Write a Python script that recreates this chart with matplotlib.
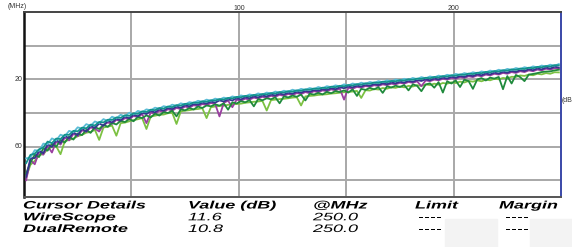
import matplotlib
matplotlib.use("Agg")
import matplotlib.pyplot as plt
from matplotlib.patches import Rectangle
from matplotlib.patheffects import AbstractPathEffect
from matplotlib.transforms import Affine2D

# ---------------- data ----------------
freq_mhz = list(range(1, 251, 2))  # 125 sample frequencies, 1..249 MHz

cyan_db = [67.0, 66.4, 62.1, 62.5, 58.2, 58.6, 55.1, 56.3, 52.9, 53.8,
           50.6, 51.5, 48.5, 49.3, 46.6, 47.6, 45.0, 46.0, 43.6, 44.7,
           42.2, 43.2, 41.0, 42.0, 39.8, 40.8, 38.7, 39.5, 37.8, 38.4,
           36.8, 37.4, 35.9, 36.5, 35.0, 35.7, 34.2, 34.9, 33.5, 34.0,
           32.7, 33.3, 32.0, 32.7, 31.4, 32.0, 30.8, 31.4, 30.1, 30.7,
           29.5, 30.1, 28.9, 29.5, 28.3, 29.0, 27.8, 28.4, 27.2, 27.8,
           26.7, 27.3, 26.1, 26.8, 25.6, 26.2, 25.1, 25.7, 24.5, 25.2,
           24.0, 24.6, 23.5, 24.1, 22.9, 23.6, 22.4, 23.1, 21.9, 22.6,
           21.5, 22.1, 21.0, 21.6, 20.5, 21.2, 20.0, 20.7, 19.6, 20.2,
           19.1, 19.8, 18.6, 19.3, 18.2, 18.8, 17.7, 18.3, 17.2, 17.8,
           16.7, 17.3, 16.2, 16.8, 15.7, 16.3, 15.2, 15.8, 14.7, 15.3,
           14.2, 14.8, 13.7, 14.3, 13.2, 13.8, 12.7, 13.3, 12.2, 12.8,
           11.7, 12.3, 11.2, 11.8, 10.8]

teal_db = [69.8, 64.9, 64.2, 61.6, 60.5, 57.0, 57.9, 55.2, 55.5, 52.9,
           53.0, 50.6, 50.9, 48.7, 49.1, 46.9, 47.4, 45.3, 45.6, 44.0,
           44.1, 42.6, 42.9, 41.3, 41.7, 40.2, 40.5, 39.0, 39.4, 38.0,
           38.3, 37.0, 37.4, 36.1, 36.5, 35.3, 35.6, 34.5, 34.8, 33.7,
           34.0, 33.0, 33.3, 32.4, 32.6, 31.7, 32.0, 31.0, 31.3, 30.4,
           30.6, 29.8, 30.1, 29.2, 29.5, 28.7, 28.9, 28.1, 28.4, 27.5,
           27.8, 27.0, 27.3, 26.5, 26.8, 25.9, 26.2, 25.4, 25.7, 24.9,
           25.2, 24.3, 24.6, 23.8, 24.1, 23.3, 23.6, 22.8, 23.1, 22.3,
           22.6, 21.8, 22.1, 21.3, 21.6, 20.9, 21.1, 20.4, 20.7, 19.9,
           20.2, 19.5, 19.7, 19.0, 19.3, 18.5, 18.8, 18.0, 18.3, 17.5,
           17.8, 17.0, 17.3, 16.5, 16.8, 16.0, 16.3, 15.5, 15.8, 15.0,
           15.3, 14.5, 14.8, 14.0, 14.3, 13.5, 13.8, 13.0, 13.3, 12.5,
           12.8, 12.0, 12.3, 11.5, 11.6]

navy_db = [78.0, 67.0, 66.8, 62.5, 63.9, 58.6, 60.2, 56.0, 57.8, 53.6,
           55.0, 51.5, 53.1, 49.4, 51.0, 47.6, 48.9, 46.2, 47.5, 44.7,
           45.6, 43.4, 44.3, 42.2, 43.1, 41.0, 41.9, 39.9, 40.6, 38.8,
           39.6, 37.8, 38.6, 37.0, 37.7, 36.1, 36.9, 35.3, 36.0, 34.6,
           35.1, 33.8, 34.4, 33.2, 33.8, 32.5, 33.1, 31.9, 32.5, 31.2,
           31.9, 30.6, 31.2, 30.1, 30.7, 29.5, 30.1, 29.0, 29.5, 28.4,
           29.0, 27.9, 28.5, 27.3, 27.9, 26.8, 27.4, 26.3, 26.8, 25.8,
           26.3, 25.2, 25.8, 24.7, 25.2, 24.2, 24.7, 23.7, 24.2, 23.2,
           23.8, 22.7, 23.3, 22.2, 22.8, 21.8, 22.3, 21.3, 21.9, 20.8,
           21.4, 20.4, 20.9, 19.9, 20.5, 19.4, 20.0, 18.9, 19.5, 18.4,
           19.0, 17.9, 18.5, 17.4, 18.0, 16.9, 17.5, 16.4, 17.0, 15.9,
           16.5, 15.4, 16.0, 14.9, 15.5, 14.4, 15.0, 13.9, 14.5, 13.4,
           14.0, 12.9, 13.5, 12.4, 12.9]

purple_db = [80.0, 68.0, 70.5, 63.2, 64.8, 59.6, 63.5, 57.0, 58.8, 54.6,
             56.3, 52.4, 53.8, 50.3, 51.2, 48.6, 49.3, 51.0, 47.2, 45.6,
             46.5, 44.0, 45.0, 43.0, 43.8, 41.7, 42.5, 40.6, 46.0, 39.6,
             40.5, 38.6, 39.5, 37.7, 38.6, 36.9, 37.7, 36.1, 36.8, 35.3,
             36.0, 34.6, 35.3, 34.0, 34.6, 42.0, 33.9, 32.6, 36.5, 32.0,
             32.7, 31.4, 32.0, 30.8, 31.4, 30.3, 30.9, 29.7, 30.3, 29.1,
             29.8, 28.6, 29.3, 28.1, 28.7, 27.5, 28.2, 27.0, 27.6, 26.5,
             27.0, 25.9, 26.5, 25.4, 32.0, 24.9, 25.5, 24.4, 24.9, 23.9,
             24.4, 23.4, 23.9, 22.9, 23.4, 22.5, 22.9, 22.0, 22.5, 21.5,
             22.0, 21.1, 24.0, 20.6, 21.0, 20.1, 20.5, 19.6, 20.1, 19.1,
             19.6, 18.6, 19.1, 18.1, 18.6, 17.6, 18.1, 17.1, 17.6, 16.6,
             17.1, 16.1, 16.6, 15.6, 16.1, 15.1, 15.6, 14.6, 15.1, 14.1,
             14.6, 13.6, 14.1, 13.3, 13.6]

dkgreen_db = [76.0, 69.5, 64.8, 66.2, 61.0, 62.4, 58.2, 60.1, 56.0, 57.6,
              54.0, 55.8, 52.2, 53.1, 50.0, 51.8, 48.4, 49.5, 47.0, 48.2,
              45.9, 46.8, 44.6, 45.4, 43.5, 44.9, 42.3, 43.0, 41.4, 42.6,
              40.3, 41.5, 39.4, 40.0, 38.6, 42.0, 37.8, 38.4, 37.0, 37.9,
              36.1, 37.0, 35.5, 36.0, 34.8, 35.6, 34.2, 38.0, 33.6, 34.3,
              32.9, 33.6, 32.3, 36.0, 31.7, 32.4, 31.2, 31.8, 30.6, 34.2,
              30.1, 30.7, 29.6, 30.3, 29.0, 32.5, 28.5, 29.0, 28.0, 28.9,
              27.4, 28.2, 26.9, 27.5, 26.5, 27.8, 25.9, 29.8, 25.6, 26.2,
              25.0, 25.9, 24.6, 28.0, 24.1, 24.8, 23.7, 24.5, 23.3, 26.5,
              22.9, 23.8, 27.0, 23.0, 22.3, 24.9, 21.6, 27.8, 21.1, 22.4,
              20.6, 24.5, 20.1, 21.0, 25.6, 20.0, 19.2, 20.6, 18.9, 19.5,
              18.5, 25.8, 18.0, 22.4, 17.3, 18.6, 21.0, 17.1, 16.7, 16.2,
              15.6, 15.3, 15.2, 14.6, 14.2]

ltgreen_db = [78.0, 70.8, 68.5, 65.0, 64.5, 61.5, 60.2, 59.8, 64.5, 56.8,
              56.0, 55.2, 53.8, 53.0, 51.7, 51.3, 50.0, 56.0, 48.6, 48.1,
              47.5, 53.5, 46.0, 45.7, 44.9, 44.2, 43.7, 43.0, 49.5, 42.0,
              41.6, 41.0, 40.9, 40.1, 39.8, 46.5, 39.0, 38.6, 38.3, 37.8,
              37.6, 37.1, 43.0, 36.5, 36.1, 35.8, 35.6, 35.1, 34.8, 34.6,
              34.4, 33.9, 33.6, 33.3, 33.1, 32.8, 38.5, 32.3, 32.0, 31.7,
              31.5, 31.2, 30.8, 30.6, 35.5, 30.1, 29.8, 29.6, 29.2, 29.0,
              28.8, 28.4, 28.2, 27.9, 27.6, 27.4, 27.2, 26.8, 31.0, 26.4,
              26.6, 25.7, 26.0, 25.1, 25.5, 24.7, 25.0, 24.2, 24.7, 23.8,
              24.2, 23.4, 23.8, 23.0, 23.3, 22.5, 23.1, 22.1, 22.5, 21.7,
              22.1, 21.3, 21.8, 20.9, 21.3, 20.5, 21.1, 20.1, 20.5, 19.6,
              19.9, 19.1, 19.4, 18.4, 18.5, 17.6, 17.9, 17.1, 17.5, 16.6,
              17.0, 16.2, 16.6, 15.7, 15.8]

x_ticks = [100, 200]
y_ticks = [20, 60]

header = ["Cursor Details", "Value (dB)", "@MHz", "Limit", "Margin"]
rows = [["WireScope", "11.6", "250.0", "----", "----"],
        ["DualRemote", "10.8", "250.0", "----", "----"]]


class StretchX(AbstractPathEffect):
    """Widen glyphs horizontally about the text origin."""
    def __init__(self, sx):
        super().__init__()
        self._sx = sx

    def draw_path(self, renderer, gc, tpath, affine, rgbFace=None):
        renderer.draw_path(gc, tpath, Affine2D().scale(self._sx, 1.0) + affine, rgbFace)


# ---------------- figure ----------------
W, H = 572, 247
fig = plt.figure(figsize=(W / 100, H / 100), dpi=100)
fig.patch.set_facecolor("white")


def fx(px):
    return px / W


def fy(py):
    return 1 - py / H


# faint background patches at bottom right
fig.patches.append(Rectangle((fx(445), 0), fx(497) - fx(445), fy(219),
                             transform=fig.transFigure, color="#f3f3f3", zorder=0))
fig.patches.append(Rectangle((fx(530), 0), fx(572) - fx(530), fy(219),
                             transform=fig.transFigure, color="#f3f3f3", zorder=0))

L, R, T, B = 24, 561, 12.3, 197
ax = fig.add_axes([fx(L), fy(B), fx(R) - fx(L), fy(T) - fy(B)])
ax.set_xlim(0, 250)
ax.set_ylim(90, -20)

for v in [50, 100, 150, 200]:
    ax.axvline(v, color="#a8a8a8", lw=1.4, zorder=1)
for v in [0, 20, 40, 60, 80]:
    ax.axhline(v, color="#a8a8a8", lw=1.4, zorder=1)

series = [
    (ltgreen_db, "#7cc142"),
    (purple_db, "#9a3fa0"),
    (dkgreen_db, "#1f8a3c"),
    (navy_db, "#35358f"),
    (cyan_db, "#5bbcd6"),
    (teal_db, "#12928c"),
]
for vals, col in series:
    ax.plot(freq_mhz, vals, color=col, lw=1.3, zorder=3)

ax.set_xticks([])
ax.set_yticks([])
ax.spines["left"].set_linewidth(1.8)
ax.spines["left"].set_color("#111111")
ax.spines["top"].set_linewidth(1.4)
ax.spines["top"].set_color("#444444")
ax.spines["bottom"].set_linewidth(1.4)
ax.spines["bottom"].set_color("#555555")
ax.spines["right"].set_linewidth(1.4)
ax.spines["right"].set_color("#3a48a8")

# tick labels
lbl_kw = dict(fontsize=5, color="#333333", family="Liberation Sans")
for xv in x_ticks:
    ax.text(xv, 1.0, str(xv), transform=ax.get_xaxis_transform(),
            ha="center", va="bottom", **lbl_kw)
for yv in y_ticks:
    ax.text(-0.003, yv, str(yv), transform=ax.get_yaxis_transform(),
            ha="right", va="center", **lbl_kw)
fig.text(fx(8), fy(6), "(MHz)", ha="left", va="center", **lbl_kw)
fig.text(fx(562), fy(100), "(dB", ha="left", va="center", **lbl_kw)

# cursor table
fam = "Liberation Sans"
fs = 7.8
stretch = [StretchX(1.66)]
head_x = [23, 188, 313, 415, 499]
row_x = [23, 188, 313, 418, 505]
for cx, txt in zip(head_x, header):
    fig.text(fx(cx), fy(208.5), txt, ha="left", va="baseline", fontsize=fs,
             family=fam, weight="bold", style="italic", color="#000000",
             path_effects=stretch)
for r, base in zip(rows, [220.3, 232]):
    for j, (cx, txt) in enumerate(zip(row_x, r)):
        kw = dict(ha="left", va="baseline", fontsize=fs, family=fam,
                  color="#000000", path_effects=stretch)
        if j == 0:
            kw.update(weight="bold", style="italic")
        elif j <= 2:
            kw.update(style="italic")
        fig.text(fx(cx), fy(base), txt, **kw)

fig.savefig("out.png", dpi=100)
